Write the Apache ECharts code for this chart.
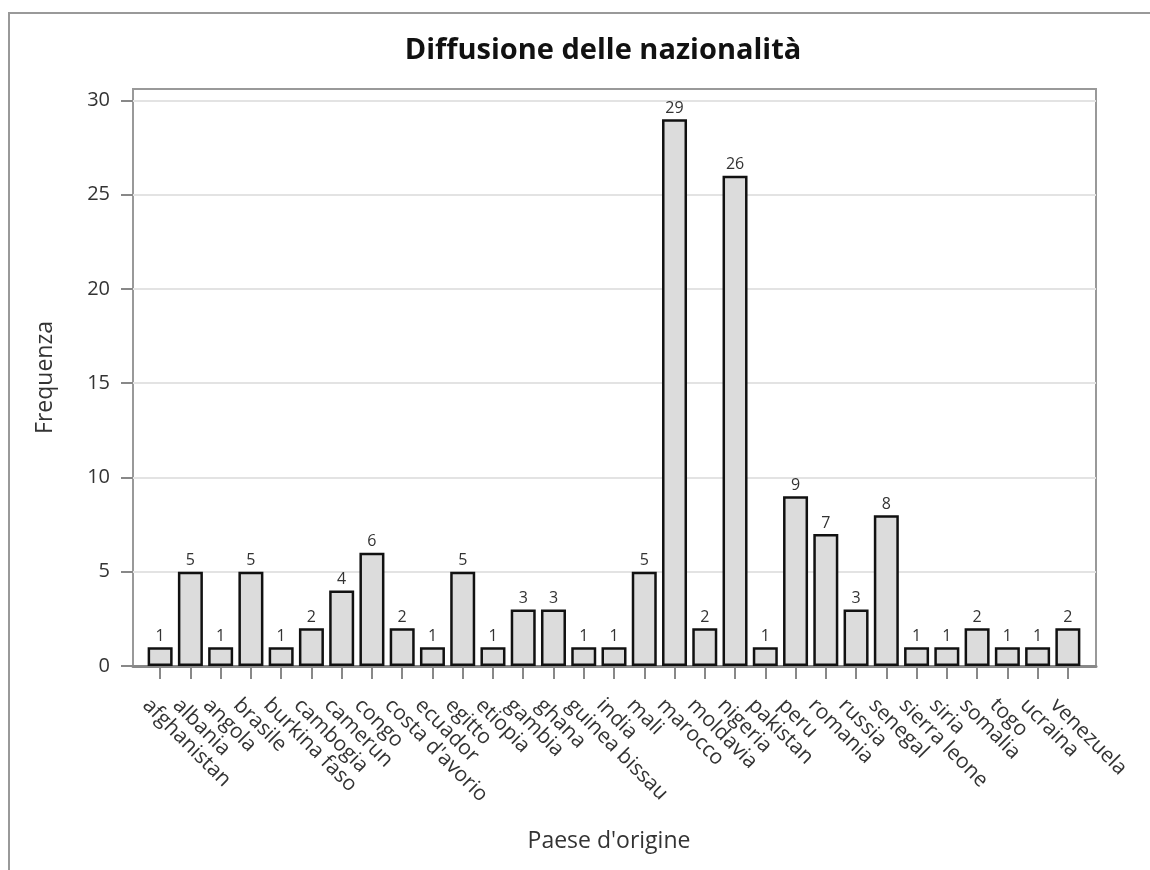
<!DOCTYPE html>
<html>
<head>
<meta charset="utf-8">
<script src="https://cdn.jsdelivr.net/npm/echarts@6/dist/echarts.min.js"></script>
<style>
  html, body { margin: 0; padding: 0; background: #fff; }
  #chart { width: 1150px; height: 870px; }
</style>
</head>
<body>
<div id="chart"></div>
<script>
// countries (x categories) and their counts
const paesi = ['afghanistan', 'albania', 'angola', 'brasile', 'burkina faso', 'cambogia', 'camerun',
  'congo', "costa d'avorio", 'ecuador', 'egitto', 'etiopia', 'gambia', 'ghana', 'guinea bissau',
  'india', 'mali', 'marocco', 'moldavia', 'nigeria', 'pakistan', 'peru', 'romania', 'russia',
  'senegal', 'sierra leone', 'siria', 'somalia', 'togo', 'ucraina', 'venezuela'];
const frequenza = [1, 5, 1, 5, 1, 2, 4, 6, 2, 1, 5, 1, 3, 3, 1, 1, 5, 29, 2, 26, 1, 9, 7, 3, 8, 1, 1, 2, 1, 1, 2];
const yTicks = [0, 5, 10, 15, 20, 25, 30];

const font = '"Open Sans", "Noto Sans", sans-serif';
const txt = '#333';
const yMax = 30.6;

const chart = echarts.init(document.getElementById('chart'));
chart.setOption({
  animation: false,
  backgroundColor: '#fff',
  title: {
    text: 'Diffusione delle nazionalità',
    left: 598,
    textAlign: 'center',
    top: 31,
    textStyle: { fontFamily: font, fontSize: 29, fontWeight: 'bold', color: '#111' }
  },
  graphic: [{
    type: 'rect',
    shape: { x: 9, y: 13, width: 1160, height: 880 },
    style: { fill: 'none', stroke: '#999', lineWidth: 2 },
    silent: true
  }],
  grid: [
    // outer plot frame
    { left: 133, right: 54, top: 89, bottom: 204, show: true, borderColor: '#999', borderWidth: 2, backgroundColor: 'transparent' },
    // inset band for bars
    { left: 145, right: 67, top: 89, bottom: 204 }
  ],
  xAxis: [
    {
      gridIndex: 0, type: 'value', min: 0, max: 1,
      axisLine: { show: true, onZero: false, lineStyle: { color: '#888', width: 3 } },
      axisTick: { show: false }, axisLabel: { show: false }, splitLine: { show: false }
    },
    {
      gridIndex: 1, type: 'category', data: paesi,
      name: "Paese d'origine", nameLocation: 'middle', nameGap: 164,
      nameTextStyle: { fontFamily: font, fontSize: 23, color: txt, padding: [0, 10, 0, 0] },
      axisLine: { show: false },
      axisTick: { show: true, alignWithLabel: true, length: 13, lineStyle: { color: '#888', width: 2 } },
      axisLabel: {
        rotate: -45, interval: 0, margin: 22, verticalAlign: 'top', lineHeight: 40,
        fontFamily: font, fontSize: 21, color: txt
      },
      splitLine: { show: false }
    }
  ],
  yAxis: [
    {
      gridIndex: 0, type: 'value', min: 0, max: yMax, interval: 5,
      name: 'Frequenza', nameLocation: 'middle', nameGap: 76,
      nameTextStyle: { fontFamily: font, fontSize: 23, color: txt },
      axisLine: { show: false },
      axisTick: { show: true, length: 12, customValues: yTicks, lineStyle: { color: '#888', width: 2 } },
      axisLabel: { margin: 23, fontFamily: font, fontSize: 20, color: txt, customValues: yTicks },
      splitLine: { show: true, lineStyle: { color: '#e3e3e3', width: 2 } }
    },
    {
      gridIndex: 1, type: 'value', min: 0, max: yMax, interval: 5,
      show: false, splitLine: { show: false }
    }
  ],
  series: [{
    type: 'bar',
    xAxisIndex: 1,
    yAxisIndex: 1,
    data: frequenza,
    barWidth: 25,
    itemStyle: { color: '#dcdcdc', borderColor: '#111', borderWidth: 2.5 },
    label: { show: true, position: 'top', distance: 3, fontFamily: font, fontSize: 16, color: txt }
  }]
});
</script>
</body>
</html>
